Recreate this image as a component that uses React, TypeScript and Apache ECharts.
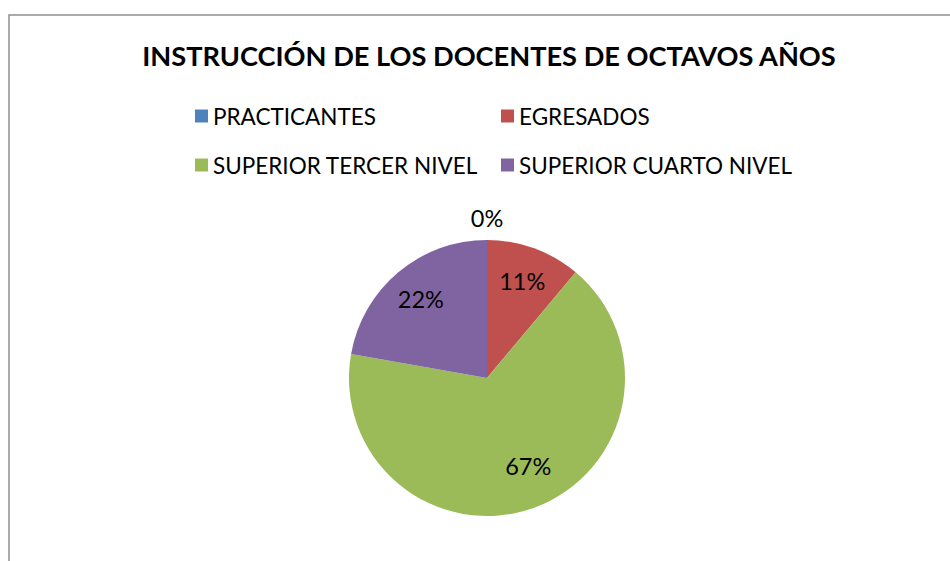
import React, { useEffect, useRef } from "react";
import * as echarts from "echarts";

const titleText = "INSTRUCCIÓN DE LOS DOCENTES DE OCTAVOS AÑOS";
const categories = ["PRACTICANTES", "EGRESADOS", "SUPERIOR TERCER NIVEL", "SUPERIOR CUARTO NIVEL"];
const values = [0, 1, 6, 2];
const colors = ["#4F81BD", "#C0504D", "#9BBB59", "#8064A2"];
const legendLeftColumn = ["PRACTICANTES", "SUPERIOR TERCER NIVEL"];
const legendRightColumn = ["EGRESADOS", "SUPERIOR CUARTO NIVEL"];
const labelOffsets: number[][] = [[0, -57], [0, 0], [6, -9], [0, 0]];

const FONT = "Lato";

export default function App() {
  const ref = useRef<HTMLDivElement>(null);
  useEffect(() => {
    document.body.style.margin = "0";
    const chart = echarts.init(ref.current!, null, { renderer: "svg" });
    const data = categories.map((name, i) => ({
      name,
      value: values[i],
      itemStyle: { color: colors[i] },
    }));
    const labelData = categories.map((name, i) => ({
      name,
      value: values[i],
      label: { offset: labelOffsets[i] },
    }));
    const legendCommon = {
      orient: "vertical" as const,
      icon: "rect",
      itemWidth: 13,
      itemHeight: 13,
      itemGap: 23,
      textStyle: { fontFamily: FONT, fontSize: 22.5, color: "#000", lineHeight: 26 },
      selectedMode: false,
    };
    chart.setOption({
      animation: false,
      backgroundColor: "#fff",
      title: {
        text: titleText,
        left: 484,
        top: 37,
        textAlign: "center",
        textStyle: { fontFamily: FONT, fontWeight: "bold", fontSize: 27.2, color: "#000" },
      },
      legend: [
        { ...legendCommon, data: legendLeftColumn, left: 190, top: 98 },
        { ...legendCommon, data: legendRightColumn, left: 496, top: 98 },
      ],
      graphic: [
        {
          type: "rect",
          shape: { x: 9, y: 15, width: 1000, height: 700 },
          style: { fill: "none", stroke: "#8e8e8e", lineWidth: 1.5 },
          silent: true,
        },
      ],
      series: [
        {
          type: "pie",
          center: [487, 378],
          radius: 138,
          startAngle: 90,
          clockwise: true,
          data,
          label: { show: false },
          labelLine: { show: false },
          itemStyle: { borderWidth: 0 },
          emphasis: { disabled: true },
        },
        {
          type: "pie",
          center: [487, 378],
          radius: [62, 138],
          startAngle: 90,
          clockwise: true,
          percentPrecision: 0,
          data: labelData,
          itemStyle: { color: "rgba(0,0,0,0)" },
          label: {
            show: true,
            position: "inside",
            formatter: "{d}%",
            fontFamily: FONT,
            fontSize: 23.5,
            color: "#000",
          },
          labelLine: { show: false },
          emphasis: { disabled: true },
          silent: true,
          legendHoverLink: false,
        },
      ],
    });
    return () => chart.dispose();
  }, []);
  return <div ref={ref} style={{ width: 950, height: 561 }} />;
}
